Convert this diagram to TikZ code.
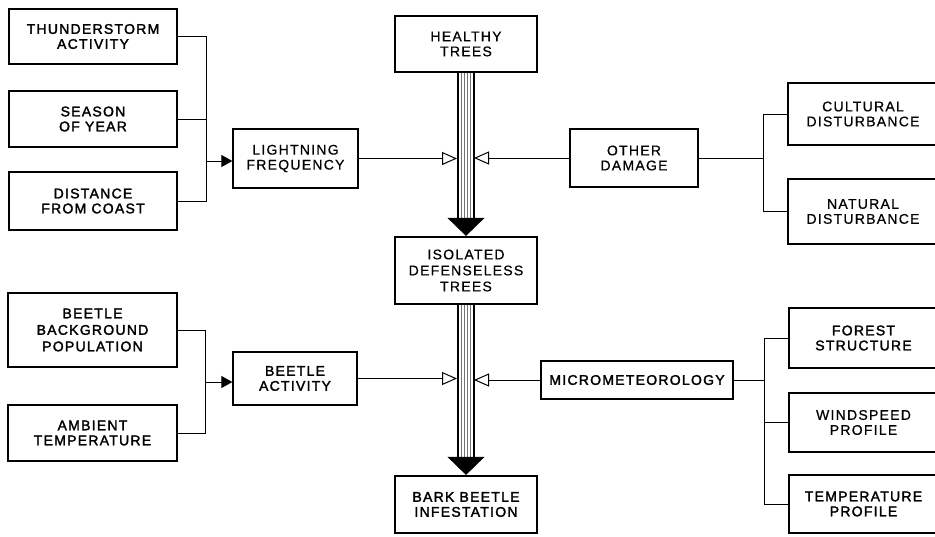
\documentclass[tikz,border=0pt]{standalone}
\usepackage{fontspec}
\setmainfont{Liberation Sans}[LetterSpace=9, FakeBold=0.6]
\newfontfamily\heavy{Liberation Sans}[LetterSpace=9, FakeBold=2]
\usetikzlibrary{arrows.meta}
\begin{document}
\begin{tikzpicture}[x=1pt,y=-1pt,
  box/.style={draw, line width=1.3pt, align=center, inner sep=0pt,
    font=\fontsize{14}{15}\selectfont},
  hv/.style={font=\heavy\fontsize{14}{15}\selectfont},
  conn/.style={line width=1pt},
  solidtip/.style={conn, -{Triangle[width=12pt,length=11pt]}},
  hollowtip/.style={conn, -{Triangle[open,width=13pt,length=15pt]}},
  edge/.style={line width=1.7pt},
  stripe/.style={line width=0.6pt, black!55},
  bigtip/.style={line width=0.4pt, -{Triangle[width=37pt,length=18pt]}}]
\useasboundingbox (0,0) rectangle (935,536);
\clip (0,0) rectangle (935,536);
\fill[white] (0,0) rectangle (935,536);
% nodes
\node[box,hv,minimum width=168pt,minimum height=55pt] (ts) at (93,36.5) {THUNDERSTORM\\ACTIVITY};
\node[box,hv,minimum width=168pt,minimum height=56pt] (se) at (93,119) {SEASON\\OF YEAR};
\node[box,hv,minimum width=168pt,minimum height=58pt] (dc) at (93,201) {DISTANCE\\FROM COAST};
\node[box,minimum width=125pt,minimum height=59pt] (lf) at (295.5,158.5) {LIGHTNING\\FREQUENCY};
\node[box,minimum width=142pt,minimum height=56pt] (ht) at (466,44) {HEALTHY\\TREES};
\node[box,minimum width=128pt,minimum height=58pt] (od) at (634,158) {OTHER\\DAMAGE};
\node[box,minimum width=150pt,minimum height=62pt] (cu) at (863,114) {CULTURAL\\DISTURBANCE};
\node[box,minimum width=150pt,minimum height=65pt] (na) at (863,211.5) {NATURAL\\DISTURBANCE};
\node[box,minimum width=142pt,minimum height=67pt,font=\fontsize{14}{16}\selectfont] (iso) at (466,270.5) {ISOLATED\\DEFENSELESS\\TREES};
\node[box,hv,minimum width=169pt,minimum height=74pt,font=\heavy\fontsize{14}{16.5}\selectfont] (bb) at (92.5,330) {BEETLE\\BACKGROUND\\POPULATION};
\node[box,hv,minimum width=169pt,minimum height=56pt] (am) at (92.5,433) {AMBIENT\\TEMPERATURE};
\node[box,hv,minimum width=124pt,minimum height=53pt] (ba) at (295,378.5) {BEETLE\\ACTIVITY};
\node[box,hv,minimum width=192pt,minimum height=38pt] (mi) at (637,380) {MICROMETEOROLOGY};
\node[box,hv,minimum width=142pt,minimum height=57pt] (bk) at (466,504.5) {BARK BEETLE\\INFESTATION};
\node[box,hv,minimum width=149pt,minimum height=60pt] (fo) at (863.5,338) {FOREST\\STRUCTURE};
\node[box,minimum width=149pt,minimum height=59pt] (wi) at (863.5,422.5) {WINDSPEED\\PROFILE};
\node[box,hv,minimum width=149pt,minimum height=58pt] (te) at (863.5,504) {TEMPERATURE\\PROFILE};
% junctions
\coordinate (jl) at (206,161);
\coordinate (jb) at (205,382);
\coordinate (jr) at (763,158);
\coordinate (jm) at (764,380);
\coordinate (sl) at (457,0);
\coordinate (sr) at (474,0);
% left brackets
\draw[conn] (ts.east) -| (jl);
\draw[conn] (se.east) -- (se.east -| jl);
\draw[conn] (dc.east) -| (jl);
\draw[solidtip] (jl) -- (jl -| lf.west);
\draw[conn] (bb.east) -| (jb);
\draw[conn] (am.east) -| (jb);
\draw[solidtip] (jb) -- (jb -| ba.west);
% right brackets
\draw[conn] (od.east) -- (jr);
\draw[conn] (cu.west) -| (jr);
\draw[conn] (na.west) -| (jr);
\draw[conn] (mi.east) -- (jm);
\draw[conn] (fo.west) -| (jm);
\draw[conn] (wi.west) -- (wi.west -| jm);
\draw[conn] (te.west) -| (jm);
% main shafts
\foreach \a/\b in {ht/iso, iso/bk}{
  \foreach \dx in {-4.5,-1.5,1.5,4.5}
    \draw[stripe] ([xshift=\dx pt]\a.south) -- ([xshift=\dx pt,yshift=18pt]\b.north);
  \foreach \dx in {-8.2,7.8}
    \draw[edge] ([xshift=\dx pt]\a.south) -- ([xshift=\dx pt,yshift=17pt]\b.north);
  \draw[bigtip] ([yshift=18.5pt]\b.north) -- ([yshift=0.5pt]\b.north);
}
% hollow arrows into shafts
\draw[hollowtip] (lf.east) -- (lf.east -| sl);
\draw[hollowtip] (od.west) -- (od.west -| sr);
\draw[hollowtip] (ba.east) -- (ba.east -| sl);
\draw[hollowtip] (mi.west) -- (mi.west -| sr);
\end{tikzpicture}
\end{document}
